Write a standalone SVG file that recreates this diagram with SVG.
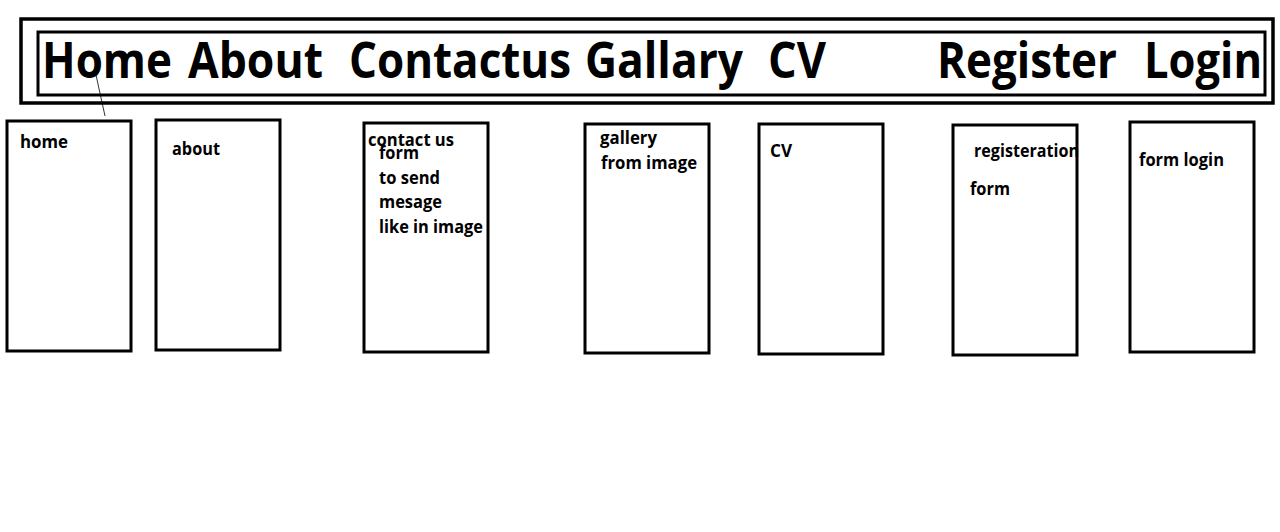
<svg xmlns="http://www.w3.org/2000/svg" width="1280" height="532" viewBox="0 0 1280 532">
<style>
.box{fill:none;stroke:#000;stroke-width:3}
.nav{font-family:"Open Sans","Noto Sans",sans-serif;font-weight:bold;font-size:50px;fill:#000}
.lbl{font-family:"Open Sans","Noto Sans",sans-serif;font-weight:bold;font-size:17px;fill:#000}
</style>
<rect width="1280" height="532" fill="#fff"/>
<g id="navbar">
<rect x="21" y="19" width="1252" height="84" fill="none" stroke="#000" stroke-width="3.5"/>
<rect x="38" y="32" width="1227" height="63" fill="none" stroke="#000" stroke-width="3"/>
<text class="nav" x="42" y="78" textLength="130" lengthAdjust="spacingAndGlyphs">Home</text>
<text class="nav" x="188" y="78" textLength="135" lengthAdjust="spacingAndGlyphs">About</text>
<text class="nav" x="349" y="78" textLength="222" lengthAdjust="spacingAndGlyphs">Contactus</text>
<text class="nav" x="585" y="78" textLength="158" lengthAdjust="spacingAndGlyphs">Gallary</text>
<text class="nav" x="768" y="78" textLength="58" lengthAdjust="spacingAndGlyphs">CV</text>
<text class="nav" x="937" y="78" textLength="180" lengthAdjust="spacingAndGlyphs">Register</text>
<text class="nav" x="1144" y="78" textLength="118" lengthAdjust="spacingAndGlyphs">Login</text>
</g>
<g id="connectors">
<line x1="96" y1="75" x2="105" y2="116" stroke="#000" stroke-width="0.8"/>
</g>
<g id="home">
<rect class="box" x="7" y="121" width="124" height="230"/>
<text class="lbl" x="20" y="148" textLength="48" lengthAdjust="spacingAndGlyphs">home</text>
</g>
<g id="about">
<rect class="box" x="156" y="120" width="124" height="230"/>
<text class="lbl" x="172" y="155" textLength="48" lengthAdjust="spacingAndGlyphs">about</text>
</g>
<g id="contact">
<rect class="box" x="364" y="123" width="124" height="229"/>
<text class="lbl" x="368" y="146" textLength="86" lengthAdjust="spacingAndGlyphs">contact us</text>
<text class="lbl" x="379" y="159" textLength="40" lengthAdjust="spacingAndGlyphs">form</text>
<text class="lbl" x="379" y="184" textLength="61" lengthAdjust="spacingAndGlyphs">to send</text>
<text class="lbl" x="379" y="208" textLength="63" lengthAdjust="spacingAndGlyphs">mesage</text>
<text class="lbl" x="379" y="233" textLength="104" lengthAdjust="spacingAndGlyphs">like in image</text>
</g>
<g id="gallery">
<rect class="box" x="585" y="124" width="124" height="229"/>
<text class="lbl" x="600" y="144" textLength="57" lengthAdjust="spacingAndGlyphs">gallery</text>
<text class="lbl" x="601" y="169" textLength="96" lengthAdjust="spacingAndGlyphs">from image</text>
</g>
<g id="cv">
<rect class="box" x="759" y="124" width="124" height="230"/>
<text class="lbl" x="770" y="157" textLength="22" lengthAdjust="spacingAndGlyphs">CV</text>
</g>
<g id="register">
<rect class="box" x="953" y="125" width="124" height="230"/>
<text class="lbl" x="974" y="157" textLength="105" lengthAdjust="spacingAndGlyphs">registeration</text>
<text class="lbl" x="970" y="195" textLength="40" lengthAdjust="spacingAndGlyphs">form</text>
</g>
<g id="login">
<rect class="box" x="1130" y="122" width="124" height="230"/>
<text class="lbl" x="1139" y="166" textLength="85" lengthAdjust="spacingAndGlyphs">form login</text>
</g>
</svg>
